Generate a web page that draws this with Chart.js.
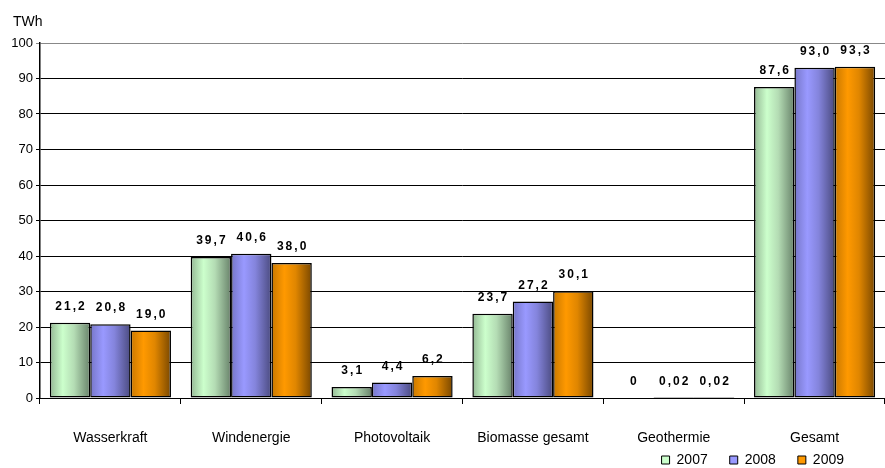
<!DOCTYPE html>
<html>
<head>
<meta charset="utf-8">
<script src="https://cdn.jsdelivr.net/npm/chart.js@4/dist/chart.umd.min.js"></script>
<style>
  html, body { margin: 0; padding: 0; background: #fff; }
  #wrap { width: 885px; height: 468px; position: relative; }
</style>
</head>
<body>
<div id="wrap"><canvas id="chart"></canvas></div>
<script>
// Stromerzeugung aus erneuerbaren Energien, TWh
const categories = ['Wasserkraft', 'Windenergie', 'Photovoltaik', 'Biomasse gesamt', 'Geothermie', 'Gesamt'];
const years = ['2007', '2008', '2009'];
const values2007 = [21.2, 39.7, 3.1, 23.7, 0, 87.6];
const values2008 = [20.8, 40.6, 4.4, 27.2, 0.02, 93.0];
const values2009 = [19.0, 38.0, 6.2, 30.1, 0.02, 93.3];
const yTicks = { min: 0, max: 100, step: 10 };

const FONT = '"Liberation Sans", Arial, sans-serif';
const CAT_PCT = 0.86;
const baseColors = ['#ccffcc', '#9999ff', '#ff9900'];
const shadeStops = [
    [['#94b894', 0], ['#ccffcc', 0.32], ['#b4dcb4', 0.6], ['#68826a', 1]],
    [['#7676c8', 0], ['#9999ff', 0.32], ['#8484dc', 0.6], ['#4b4b80', 1]],
    [['#c87800', 0], ['#ff9900', 0.32], ['#e08600', 0.6], ['#7a4800', 1]]
];

// horizontal shading per bar, computed from the x scale
function barShade(ctx, k) {
    const chart = ctx.chart, xs = chart.scales.x;
    if (!xs || ctx.dataIndex === undefined) return baseColors[k];
    const cat = xs.width / categories.length;
    const bw = cat * CAT_PCT / years.length;
    const left = xs.getPixelForValue(ctx.dataIndex) - cat * CAT_PCT / 2 + k * bw;
    const g = chart.ctx.createLinearGradient(left, 0, left + bw, 0);
    shadeStops[k].forEach(([c, p]) => g.addColorStop(p, c));
    return g;
}

function fmt(v) {
    if (v === 0) return '0';
    return (v < 0.1 ? v.toFixed(2) : v.toFixed(1)).replace('.', ',');
}

const valueLabels = {
    id: 'valueLabels',
    afterDatasetsDraw(chart) {
        const c = chart.ctx;
        c.save();
        c.font = 'bold 12px ' + FONT;
        c.fillStyle = '#000';
        c.textAlign = 'center';
        c.textBaseline = 'middle';
        if ('letterSpacing' in c) c.letterSpacing = '2px';
        chart.data.datasets.forEach((ds, i) => {
            chart.getDatasetMeta(i).data.forEach((bar, j) => {
                c.fillText(fmt(ds.data[j]), bar.x + 1, bar.y - 16);
            });
        });
        c.restore();
    },
    afterDraw(chart) {
        const c = chart.ctx;
        c.save();
        c.font = '14px ' + FONT;
        c.fillStyle = '#000';
        c.textBaseline = 'middle';
        c.fillText('TWh', 13, 22);
        c.restore();
    }
};

// put the legend where the original has it (bottom right, under the axis labels)
const legendPlace = {
    id: 'legendPlace',
    afterLayout(chart) {
        const lg = chart.legend;
        if (!lg) return;
        lg.top = 460 - lg.options.labels.padding - 7;
        lg.bottom = chart.height;
        lg.height = lg.bottom - lg.top;
        lg.left -= 19; lg.right -= 19;
    }
};

const datasets = [values2007, values2008, values2009].map((data, k) => ({
    label: years[k],
    data: data,
    backgroundColor: ctx => barShade(ctx, k),
    borderColor: '#000',
    borderWidth: 1.5,
    borderSkipped: false,
    categoryPercentage: CAT_PCT,
    barPercentage: 1
}));

new Chart(document.getElementById('chart'), {
    type: 'bar',
    data: { labels: categories, datasets: datasets },
    options: {
        responsive: true,
        maintainAspectRatio: false,
        animation: false,
        layout: { padding: { top: 43, right: 0, bottom: 0, left: 0 } },
        plugins: {
            legend: {
                position: 'bottom',
                align: 'end',
                maxHeight: 20,
                labels: {
                    boxWidth: 8, boxHeight: 8, padding: 22, color: '#000',
                    font: { family: FONT, size: 14 },
                    generateLabels: chart => years.map((y, k) => ({
                        text: y, fillStyle: baseColors[k], strokeStyle: '#000',
                        lineWidth: 1, datasetIndex: k, hidden: false
                    }))
                }
            },
            tooltip: { enabled: false }
        },
        scales: {
            x: {
                grid: { display: true, drawOnChartArea: false, drawTicks: true, tickLength: 6, color: '#000', offset: true },
                border: { color: '#000', width: 1 },
                ticks: { color: '#000', padding: 26, autoSkip: false, maxRotation: 0, font: { family: FONT, size: 14 } },
                afterFit: s => { s.height = 50; }
            },
            y: {
                min: yTicks.min, max: yTicks.max,
                ticks: { stepSize: yTicks.step, color: '#000', padding: 3, font: { family: FONT, size: 13 } },
                grid: { color: ctx => ctx.tick && ctx.tick.value === yTicks.max ? '#888' : '#000', lineWidth: 1, tickLength: 4 },
                border: { color: '#000', width: 1.5 },
                afterFit: s => { s.width = 40; }
            }
        }
    },
    plugins: [valueLabels, legendPlace]
});
</script>
</body>
</html>
